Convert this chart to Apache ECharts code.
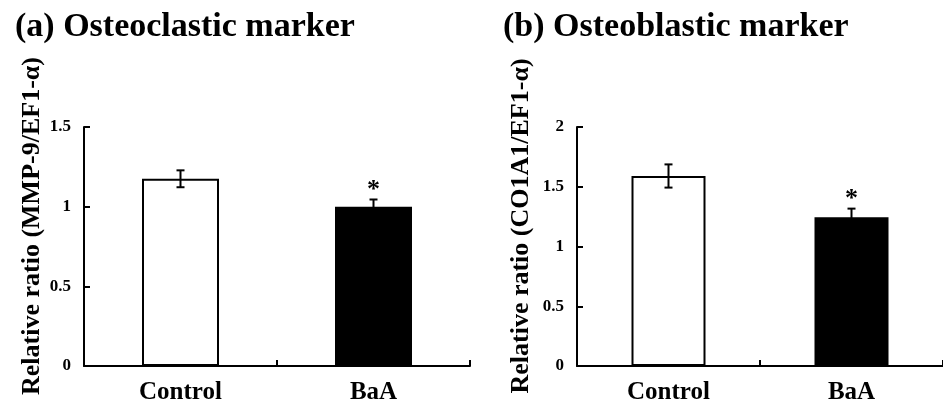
<!DOCTYPE html>
<html>
<head>
<meta charset="utf-8">
<script src="https://cdn.jsdelivr.net/npm/echarts@6/dist/echarts.min.js"></script>
<style>html,body{margin:0;padding:0;background:#fff}#c{width:943px;height:405px}</style>
</head>
<body>
<div id="c"></div>
<script>
const categories = ['Control', 'BaA'];
const titleA = '(a) Osteoclastic marker';
const titleB = '(b) Osteoblastic marker';
const yNameA = 'Relative ratio (MMP-9/EF1-\u03B1)';
const yNameB = 'Relative ratio (CO1A1/EF1-\u03B1)';
const meansA = [1.175, 1.0];
const errA = [0.053, 0.045];
const meansB = [1.59, 1.245];
const errB = [0.097, 0.072];
const sigA = ['', '*'];
const sigB = ['', '*'];
const yMaxA = 1.5, yMaxB = 2, yStep = 0.5;
const barColors = ['#ffffff', '#000000'];

const FONT = '"Liberation Serif", "Times New Roman", serif';
const chart = echarts.init(document.getElementById('c'), null, {renderer: 'canvas'});

function errSeries(idx, means, errs, sigs) {
  return {
    type: 'custom', xAxisIndex: idx, yAxisIndex: idx, z: 10,
    data: means.map((m, i) => [i, m, errs[i]]),
    renderItem: function (params, api) {
      const x = api.value(0), m = api.value(1), e = api.value(2);
      const top = api.coord([x, m + e]);
      const bot = api.coord([x, m - e]);
      const hw = 4;
      const st = {stroke: '#000', lineWidth: 2};
      const sig = sigs[params.dataIndex];
      const children = [
        {type: 'line', shape: {x1: top[0], y1: top[1], x2: bot[0], y2: bot[1]}, style: st},
        {type: 'line', shape: {x1: top[0] - hw, y1: top[1], x2: top[0] + hw, y2: top[1]}, style: st},
        {type: 'line', shape: {x1: bot[0] - hw, y1: bot[1], x2: bot[0] + hw, y2: bot[1]}, style: st}
      ];
      if (sig) {
        children.push({type: 'text', style: {text: sig, x: top[0], y: top[1] + 4, align: 'center', verticalAlign: 'bottom', font: 'bold 26px ' + FONT, fill: '#000'}});
      }
      return {type: 'group', children: children};
    }
  };
}

function barSeries(idx, means, w) {
  return {
    type: 'bar', xAxisIndex: idx, yAxisIndex: idx, barWidth: w,
    data: means.map((m, i) => ({value: m, itemStyle: {color: barColors[i], borderColor: '#000', borderWidth: 2}})),
    animation: false
  };
}

const axisLine = {show: true, lineStyle: {color: '#000', width: 2}};
function xAx(idx) {
  return {
    type: 'category', gridIndex: idx, data: categories,
    axisLine: axisLine,
    axisTick: {show: true, inside: true, length: 6, lineStyle: {color: '#000', width: 2}},
    axisLabel: {color: '#000', fontFamily: FONT, fontWeight: 'bold', fontSize: 25, margin: 14}
  };
}
function yAx(idx, max) {
  return {
    type: 'value', gridIndex: idx, min: 0, max: max, interval: yStep,
    axisLine: axisLine,
    axisTick: {show: true, inside: true, length: 6, lineStyle: {color: '#000', width: 2}},
    splitLine: {show: false},
    axisLabel: {color: '#000', fontFamily: FONT, fontWeight: 'bold', fontSize: 17, margin: 13}
  };
}

chart.setOption({
  animation: false,
  backgroundColor: '#fff',
  title: [
    {text: titleA, left: 10, top: 5, textStyle: {fontFamily: FONT, fontWeight: 'bold', fontSize: 34, color: '#000'}},
    {text: titleB, left: 498, top: 5, textStyle: {fontFamily: FONT, fontWeight: 'bold', fontSize: 34, color: '#000'}}
  ],
  grid: [
    {left: 84, top: 127, width: 386, height: 239},
    {left: 577, top: 127, width: 369, height: 239}
  ],
  xAxis: [xAx(0), xAx(1)],
  yAxis: [yAx(0, yMaxA), yAx(1, yMaxB)],
  graphic: [
    {type: 'text', x: 32, y: 226, rotation: Math.PI / 2, style: {text: yNameA, font: 'bold 26px ' + FONT, fill: '#000', align: 'center', verticalAlign: 'middle'}},
    {type: 'text', x: 521, y: 226, rotation: Math.PI / 2, style: {text: yNameB, font: 'bold 26px ' + FONT, fill: '#000', align: 'center', verticalAlign: 'middle'}}
  ],
  series: [
    barSeries(0, meansA, 77), errSeries(0, meansA, errA, sigA),
    barSeries(1, meansB, 74), errSeries(1, meansB, errB, sigB)
  ]
});
</script>
</body>
</html>
